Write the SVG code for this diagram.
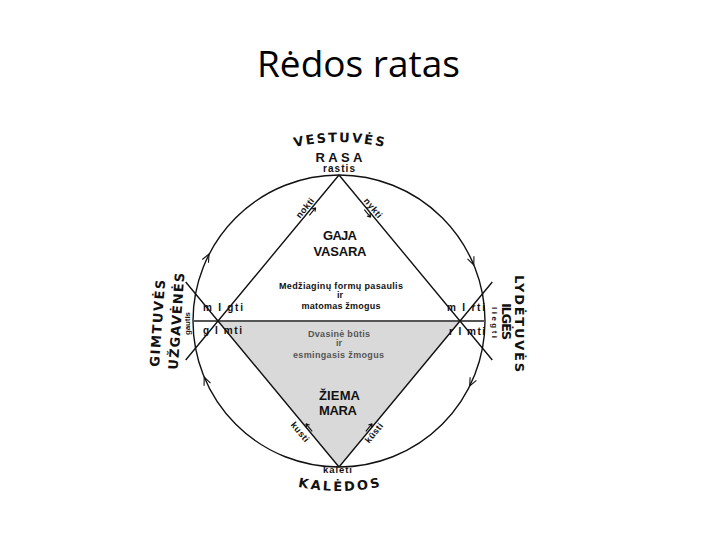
<svg xmlns="http://www.w3.org/2000/svg" width="720" height="540" viewBox="0 0 720 540">
<style>
.ln{fill:none;stroke:#111;stroke-width:1.4}
.ar{fill:none;stroke:#111;stroke-width:1.1}
.lb{font-family:"Liberation Sans",Arial,sans-serif;font-weight:bold;fill:#111;text-anchor:middle}
.big{font-family:"DejaVu Sans",sans-serif;font-weight:bold;fill:#111;font-size:13px;text-anchor:middle}
.sm{font-size:9px}
.mid{font-size:13px}
.gr{fill:#555}
</style>
<defs>
<path id="chev" d="M-8,-3.5 L0,0 L-8,3.5"/>
<path id="harp" d="M-5,0 H5 M5,0 L1.5,-2 M5,0 L1.5,2"/>
<path id="pTop" d="M139,342 A200,200 0 0 1 539,342"/>
<path id="pBot" d="M139,291 A200,200 0 0 0 539,291"/>
</defs>
<rect width="720" height="540" fill="#fff"/>
<text id="title" x="358.5" y="77" font-family="'Open Sans',sans-serif" font-size="36" fill="#000" text-anchor="middle" textLength="203" lengthAdjust="spacingAndGlyphs">Rėdos ratas</text>

<g id="lower-half">
<polygon points="218,321 460,321 339,467" fill="#d9d9d9"/>
</g>
<g id="connectors">
<circle cx="339" cy="321" r="146" class="ln"/>
<path d="M193,321 H485" fill="none" stroke="#555" stroke-width="2"/>
<path class="ln" d="M339,175 L185.7,360 M339,467 L185.7,282 M339,175 L492.3,360 M339,467 L492.3,282"/>
<use href="#chev" class="ar" transform="translate(209,254) rotate(297)"/>
<use href="#chev" class="ar" transform="translate(473.8,265) rotate(67.4)"/>
<use href="#chev" class="ar" transform="translate(469.7,386) rotate(116.4)"/>
<use href="#chev" class="ar" transform="translate(204.2,377) rotate(247.4)"/>
<use href="#harp" class="ar" transform="translate(312.5,211.5) rotate(-50.4)"/>
<use href="#harp" class="ar" transform="translate(367.5,213.5) rotate(50.4)"/>
<use href="#harp" class="ar" transform="translate(309,427.5) rotate(230.4)"/>
<use href="#harp" class="ar" transform="translate(369,427.5) rotate(-50.4)"/>
</g>

<g id="node-vestuves">
<text class="big" font-size="14"><textPath href="#pTop" startOffset="50%" textLength="90">VESTUVĖS</textPath></text>
<text class="lb" x="339" y="161.5" font-size="13" textLength="47">RASA</text>
<text class="lb" x="339" y="172" font-size="10" textLength="32">rastis</text>
</g>
<g id="node-kaledos">
<text class="lb" x="337.5" y="473" font-size="9.5" textLength="29">kalėti</text>
<text class="big" font-size="14"><textPath href="#pBot" startOffset="50%" textLength="83">KALĖDOS</textPath></text>
</g>
<g id="node-gimtuves">
<text class="big" transform="translate(162,323.5) rotate(-86)" textLength="87">GIMTUVĖS</text>
<text class="big" transform="translate(181,321.5) rotate(-86)" textLength="97">UŽGAVĖNĖS</text>
<text class="lb" font-size="8" transform="translate(189.5,323.5) rotate(-90)" textLength="23">gautis</text>
</g>
<g id="node-ilges">
<text class="lb" font-size="8" transform="translate(491.5,322.5) rotate(90)" textLength="31">liegti</text>
<text class="big" transform="translate(502,321.5) rotate(90)" textLength="37">ILGĖS</text>
<text class="big" transform="translate(514.5,323.5) rotate(90)" textLength="97">LYDĖTUVĖS</text>
</g>
<g id="node-vasara">
<text class="lb mid" x="340" y="240" textLength="34">GAJA</text>
<text class="lb mid" x="340" y="256" textLength="53">VASARA</text>
<text class="lb sm" x="341" y="289" textLength="124">Medžiaginų formų pasaulis</text>
<text class="lb sm" x="340" y="298">ir</text>
<text class="lb sm" x="341" y="309" textLength="79">matomas žmogus</text>
</g>
<g id="node-ziema">
<text class="lb sm gr" x="339" y="337" textLength="62">Dvasinė būtis</text>
<text class="lb sm gr" x="339" y="346">ir</text>
<text class="lb sm gr" x="338.5" y="358" textLength="91">esmingasis žmogus</text>
<text class="lb mid" x="339.5" y="400" textLength="41">ŽIEMA</text>
<text class="lb mid" x="338" y="415" textLength="38">MARA</text>
</g>
<g id="edge-labels">
<text class="lb sm" transform="translate(305,208) rotate(-50.4)" dominant-baseline="central" textLength="23">nokti</text>
<text class="lb sm" transform="translate(373,208) rotate(50.4)" dominant-baseline="central" textLength="23">nykti</text>
<text class="lb sm" transform="translate(300,432) rotate(50.4)" dominant-baseline="central" textLength="23">kusti</text>
<text class="lb sm" transform="translate(374,433) rotate(-50.4)" dominant-baseline="central" textLength="23">kūsti</text>
</g>
<g id="verb-labels">
<text class="lb" x="223" y="311" font-size="10" textLength="40">m I gti</text>
<text class="lb" x="222.5" y="334" font-size="10" textLength="39">g I mti</text>
<text class="lb" x="466" y="311" font-size="10" textLength="38">m I rti</text>
<text class="lb" x="467" y="335" font-size="10" textLength="36">r I mti</text>
</g>
</svg>
